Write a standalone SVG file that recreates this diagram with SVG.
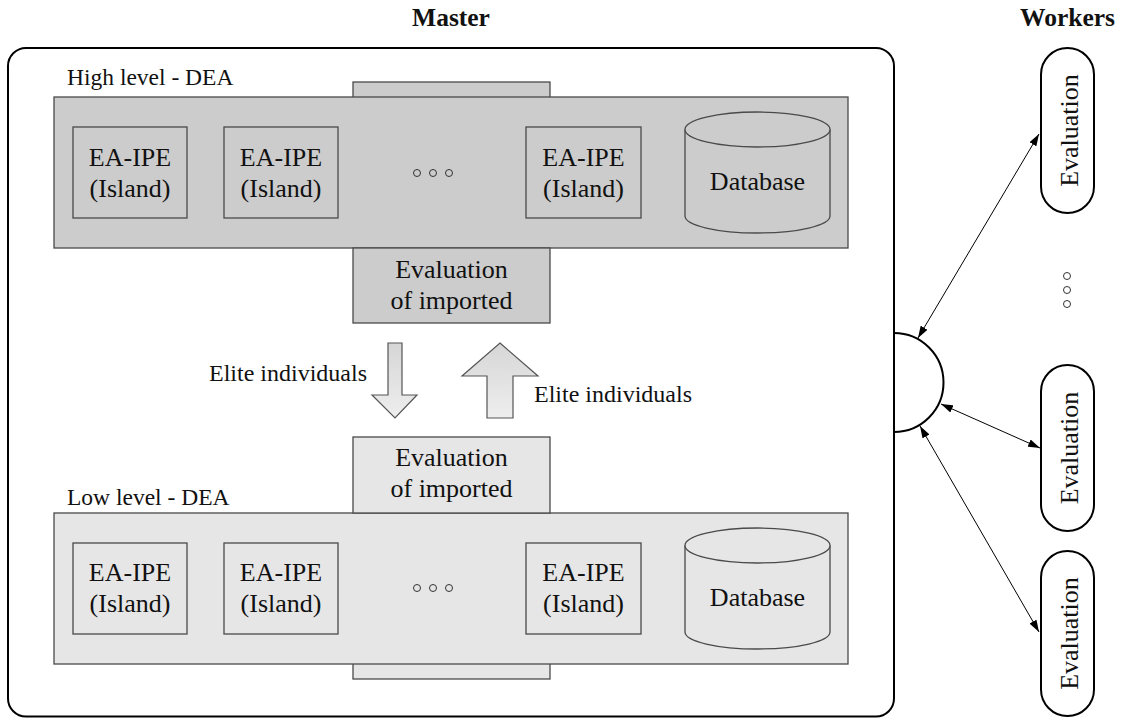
<svg xmlns="http://www.w3.org/2000/svg" width="1123" height="718" viewBox="0 0 1123 718" font-family="'Liberation Serif','Times New Roman','DejaVu Serif',serif">
<defs>
<style>
text{font-family:"Liberation Serif","Times New Roman","DejaVu Serif",serif;fill:#111}
.title{font-weight:bold;font-size:25.5px;text-anchor:middle}
.lvl{font-size:23.5px}
.lbl{font-size:26px;text-anchor:middle}
.elite{font-size:24px}
.hi{fill:#cccccc;stroke:#4a4a4a;stroke-width:1.3}
.lo{fill:#e6e6e6;stroke:#4a4a4a;stroke-width:1.3}
.dots circle{fill:none;stroke:#333;stroke-width:1}
.pill{fill:#fff;stroke:#000;stroke-width:2}
.conn{stroke:#000;stroke-width:1;fill:none;marker-start:url(#ah);marker-end:url(#ah)}
.big{stroke:#555;stroke-width:1.2;fill:url(#g)}
</style>
<marker id="ah" viewBox="0 0 12 8" refX="12" refY="4" markerWidth="12" markerHeight="8" markerUnits="userSpaceOnUse" orient="auto-start-reverse">
<path d="M0,0 L12,4 L0,8 Z" fill="#000"/>
</marker>
<linearGradient id="g" x1="0" y1="0" x2="0" y2="1">
<stop offset="0" stop-color="#d6d6d6"/>
<stop offset="1" stop-color="#eeeeee"/>
</linearGradient>
</defs>

<text class="title" x="451" y="26">Master</text>
<text class="title" x="1067.5" y="26">Workers</text>

<g id="master">
<rect x="8" y="48" width="886" height="668.5" rx="18" fill="#fff" stroke="#000" stroke-width="2"/>
</g>

<g id="high-level">
<rect class="hi" x="353" y="82" width="197" height="20"/>
<rect class="hi" x="54" y="97" width="794" height="151"/>
<text class="lvl" x="67" y="85">High level - DEA</text>
</g>
<g id="high-eval">
<rect class="hi" x="353" y="248" width="197" height="75"/>
<text class="lbl" x="451.5" y="278">Evaluation</text>
<text class="lbl" x="451.5" y="309">of imported</text>
</g>
<g id="high-island1">
<rect class="hi" x="73" y="127" width="114" height="91"/>
<text class="lbl" x="130" y="166">EA-IPE</text>
<text class="lbl" x="130" y="197">(Island)</text>
</g>
<g id="high-island2">
<rect class="hi" x="224" y="127" width="114" height="91"/>
<text class="lbl" x="281" y="166">EA-IPE</text>
<text class="lbl" x="281" y="197">(Island)</text>
</g>
<g id="high-dots" class="dots">
<circle cx="417" cy="173" r="3.5"/><circle cx="433" cy="173" r="3.5"/><circle cx="449" cy="173" r="3.5"/>
</g>
<g id="high-island3">
<rect class="hi" x="526" y="127" width="115" height="91"/>
<text class="lbl" x="583.5" y="166">EA-IPE</text>
<text class="lbl" x="583.5" y="197">(Island)</text>
</g>
<g id="high-db">
<path class="hi" d="M685,129.5 V216 A72.5,17 0 0 0 830,216 V129.5"/>
<ellipse class="hi" cx="757.5" cy="129.5" rx="72.5" ry="17.5"/>
<text class="lbl" x="757.5" y="190">Database</text>
</g>

<g id="low-level">
<rect class="lo" x="353" y="640" width="197" height="39"/>
<rect class="lo" x="54" y="513" width="794" height="151"/>
<text class="lvl" x="67" y="505">Low level - DEA</text>
</g>
<g id="low-eval">
<rect class="lo" x="353" y="437" width="197" height="76"/>
<text class="lbl" x="451.5" y="466">Evaluation</text>
<text class="lbl" x="451.5" y="497">of imported</text>
</g>
<g id="low-island1">
<rect class="lo" x="73" y="543" width="114" height="91"/>
<text class="lbl" x="130" y="581">EA-IPE</text>
<text class="lbl" x="130" y="612">(Island)</text>
</g>
<g id="low-island2">
<rect class="lo" x="224" y="543" width="114" height="91"/>
<text class="lbl" x="281" y="581">EA-IPE</text>
<text class="lbl" x="281" y="612">(Island)</text>
</g>
<g id="low-dots" class="dots">
<circle cx="417" cy="588" r="3.5"/><circle cx="433" cy="588" r="3.5"/><circle cx="449" cy="588" r="3.5"/>
</g>
<g id="low-island3">
<rect class="lo" x="526" y="543" width="115" height="91"/>
<text class="lbl" x="583.5" y="581">EA-IPE</text>
<text class="lbl" x="583.5" y="612">(Island)</text>
</g>
<g id="low-db">
<path class="lo" d="M685,545.5 V632 A72.5,17 0 0 0 830,632 V545.5"/>
<ellipse class="lo" cx="757.5" cy="545.5" rx="72.5" ry="17.5"/>
<text class="lbl" x="757.5" y="606">Database</text>
</g>

<g id="elite-down">
<path class="big" d="M388,343 H402 V395 H417 L395,418 L372,395 H388 Z"/>
<text class="elite" x="367" y="381" text-anchor="end">Elite individuals</text>
</g>
<g id="elite-up">
<path class="big" d="M500,343 L538,376 H513 V418 H487 V376 H462 Z"/>
<text class="elite" x="534" y="402">Elite individuals</text>
</g>

<g id="hub">
<path d="M894,333 A49.5,49.5 0 0 1 894,432" fill="none" stroke="#000" stroke-width="2"/>
</g>

<g id="worker1">
<rect class="pill" x="1041" y="48" width="53" height="165" rx="26.5"/>
<text class="lbl" font-size="27" transform="translate(1078,130.5) rotate(-90)">Evaluation</text>
</g>
<g id="worker-dots" class="dots">
<circle cx="1067" cy="276" r="3.5"/><circle cx="1067" cy="290" r="3.5"/><circle cx="1067" cy="304" r="3.5"/>
</g>
<g id="worker2">
<rect class="pill" x="1041" y="365" width="53" height="166" rx="26.5"/>
<text class="lbl" transform="translate(1078,448) rotate(-90)">Evaluation</text>
</g>
<g id="worker3">
<rect class="pill" x="1041" y="551" width="53" height="165" rx="26.5"/>
<text class="lbl" transform="translate(1078,633.5) rotate(-90)">Evaluation</text>
</g>

<g id="connectors">
<line class="conn" x1="918" y1="338" x2="1039" y2="134"/>
<line class="conn" x1="941" y1="404" x2="1040" y2="448"/>
<line class="conn" x1="920" y1="426" x2="1039" y2="632"/>
</g>
</svg>
